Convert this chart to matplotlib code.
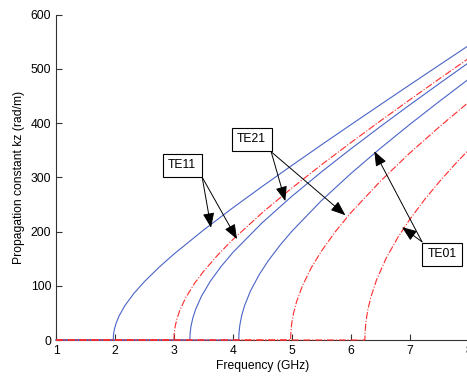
import matplotlib.pyplot as plt

plt.rcParams['font.family'] = ['Liberation Sans', 'DejaVu Sans']

# blue solid curves (cutoffs ~1.97, 3.27, 4.10 GHz)
te11_b_f = [1, 1.97, 1.975, 1.99, 2.02, 2.07, 2.17, 2.32, 2.5, 2.75, 3.0, 3.5, 4.0, 4.5, 5.0, 5.5, 6.0, 6.5, 7.0, 7.5, 8.0]
te11_b_k = [0, 0, 9.8, 19.7, 31.3, 44.5, 63.7, 85.8, 107.7, 134.3, 158.4, 202.5, 243.7, 283.2, 321.7, 359.5, 396.7, 433.6, 470.2, 506.6, 542.8]

te21_b_f = [1, 3.27, 3.275, 3.29, 3.32, 3.37, 3.47, 3.62, 3.8, 4.0, 4.5, 5.0, 5.5, 6.0, 6.5, 7.0, 7.5, 8.0]
te21_b_k = [0, 0, 12.7, 25.4, 40.2, 57.0, 81.3, 108.7, 135.5, 161.3, 216.4, 264.8, 309.6, 352.1, 393.2, 433.3, 472.5, 511.1]

te01_b_f = [1, 4.10, 4.105, 4.12, 4.15, 4.2, 4.3, 4.45, 4.6, 4.8, 5.0, 5.5, 6.0, 6.5, 7.0, 7.5, 8.0]
te01_b_k = [0, 0, 14.2, 28.4, 45.0, 63.8, 90.7, 121.1, 146.0, 174.7, 200.3, 256.6, 306.6, 353.1, 397.2, 439.6, 480.9]

# red dash-dot curves (cutoffs ~3.00, 4.98, 6.24 GHz)
te11_r_f = [1, 3.0, 3.005, 3.02, 3.05, 3.1, 3.2, 3.35, 3.5, 3.75, 4.0, 4.5, 5.0, 5.5, 6.0, 6.5, 7.0, 7.5, 8.0]
te11_r_k = [0, 0, 12.1, 24.3, 38.5, 54.7, 78.0, 104.4, 126.2, 157.5, 185.2, 234.8, 280.0, 322.7, 363.7, 403.6, 442.7, 481.2, 519.1]

te21_r_f = [1, 4.98, 4.985, 5.0, 5.03, 5.08, 5.18, 5.33, 5.5, 5.75, 6.0, 6.5, 7.0, 7.5, 8.0]
te21_r_k = [0, 0, 15.6, 31.3, 49.5, 70.2, 99.8, 133.0, 163.4, 201.2, 234.3, 292.4, 344.4, 392.6, 438.3]

te01_r_f = [1, 6.24, 6.245, 6.26, 6.29, 6.34, 6.44, 6.6, 6.8, 7.0, 7.25, 7.5, 7.75, 8.0]
te01_r_k = [0, 0, 17.5, 35.0, 55.4, 78.5, 111.5, 150.5, 189.2, 222.1, 258.4, 291.3, 321.7, 350.4]

BLUE = '#4a64c8'
RED = '#ff2a2a'
FS = 8.7

fig = plt.figure(figsize=(4.67, 3.76), dpi=100)
ax = fig.add_axes([0.12, 0.0957, 0.8834, 0.8657])

for f, k in [(te11_b_f, te11_b_k), (te21_b_f, te21_b_k), (te01_b_f, te01_b_k)]:
    ax.plot(f, k, color=BLUE, lw=0.8, zorder=3, clip_on=False)
for f, k in [(te11_r_f, te11_r_k), (te21_r_f, te21_r_k), (te01_r_f, te01_r_k)]:
    ax.plot(f, k, color=RED, lw=0.8, ls='-.', zorder=3, clip_on=False)

ax.set_xlim(1, 8)
ax.set_ylim(0, 600)
ax.set_xticks(range(1, 9))
ax.set_yticks(range(0, 601, 100))
ax.spines['top'].set_visible(False)
ax.spines['right'].set_visible(False)
for s in ['left', 'bottom']:
    ax.spines[s].set_color('#333333')
    ax.spines[s].set_linewidth(0.8)
ax.tick_params(direction='in', length=4, width=0.8, colors='#333333', labelsize=FS, labelcolor='black')
ax.set_xlabel('Frequency (GHz)', fontsize=FS, labelpad=2)
ax.set_ylabel('Propagation constant kz (rad/m)', fontsize=FS, labelpad=4)

box = dict(boxstyle='square,pad=0.45', fc='white', ec='black', lw=0.8)
arrow = dict(arrowstyle='-|>,head_length=0.9,head_width=0.35', color='black', lw=0.7, shrinkA=0, shrinkB=0)

labels = [
    ('TE11', (3.14, 322), (3.48, 300), [(3.63, 207), (4.07, 186)]),
    ('TE21', (4.32, 370), (4.65, 347), [(4.89, 256), (5.91, 230)]),
    ('TE01', (7.55, 158), (7.21, 181), [(6.40, 348), (6.87, 208)]),
]
for name, pos, corner, tips in labels:
    for tip in tips:
        ax.annotate('', xy=tip, xytext=corner, arrowprops=arrow)
    ax.text(pos[0], pos[1], name, fontsize=FS, ha='center', va='center', bbox=box, zorder=5)

fig.savefig('out.png', dpi=100)
